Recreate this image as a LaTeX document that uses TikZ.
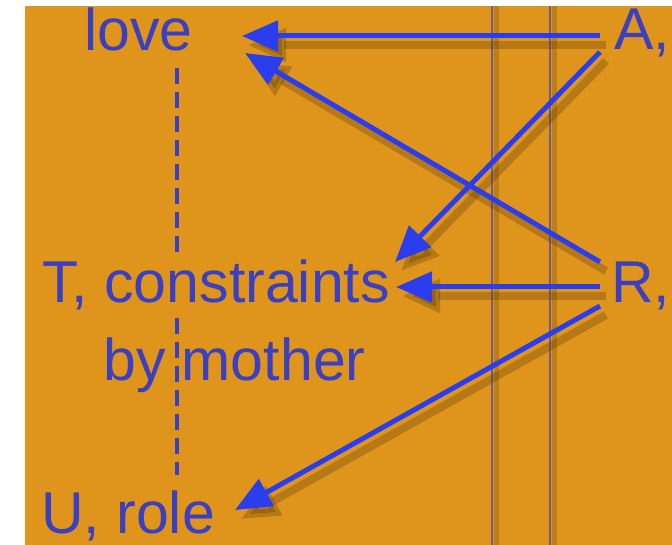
\documentclass[tikz,border=0pt]{standalone}
\usepackage{fontspec}
\setmainfont{Liberation Sans}
\usetikzlibrary{arrows.meta}
\definecolor{bgorange}{HTML}{DF951C}
\definecolor{arrowblue}{HTML}{2B3EEE}
\definecolor{textblue}{HTML}{3A40C0}
\definecolor{thinline}{HTML}{6F5C8C}
\definecolor{shadowcol}{HTML}{5A3A05}
\begin{document}
\begin{tikzpicture}[x=1pt,y=-1pt,
  lbl/.style={anchor=base west, inner sep=0pt, text=textblue, font=\fontsize{59}{62}\selectfont},
  conn/.style={draw=arrowblue, line width=5pt, -{Triangle[length=36pt,width=30pt]}},
  connshadow/.style={draw=shadowcol, opacity=0.3, line width=8pt, -{Triangle[length=38pt,width=32pt]}},
  rule/.style={draw=thinline, line width=2.5pt},
  ruleshadow/.style={draw=shadowcol, opacity=0.25, line width=5pt},
  dashv/.style={draw=textblue, line width=4.5pt, dash pattern=on 16pt off 8pt}]
\useasboundingbox (0,0) rectangle (672,545);
\fill[white] (0,0) rectangle (672,545);
\begin{scope}
\clip (25,6) rectangle (672,545);
\fill[bgorange] (25,6) rectangle (672,545);
% thin vertical rules
\coordinate (v1t) at (492,6); \coordinate (v1b) at (492,545);
\coordinate (v2t) at (550,6); \coordinate (v2b) at (550,545);
\draw[ruleshadow] ([xshift=4pt]v1t) -- ([xshift=4pt]v1b);
\draw[ruleshadow] ([xshift=4pt]v2t) -- ([xshift=4pt]v2b);
\draw[rule] (v1t) -- (v1b);
\draw[rule] (v2t) -- (v2b);
% labels
\node[lbl] (love) at (84,51) {love};
\node[lbl] (A) at (614,50) {A,};
\node[lbl] (T) at (42,303) {T, constraints};
\node[lbl] (by) at (103,380) {by mother};
\node[lbl] (U) at (41,533) {U, role};
\node[lbl] (R) at (611,303) {R,};
% connector ends
\coordinate (A1) at (600,36); \coordinate (A2) at (600,52);
\coordinate (R1) at (600,262); \coordinate (R2) at (600,287); \coordinate (R3) at (600,306);
\coordinate (loveA) at (242,36); \coordinate (loveR) at (245,53);
\coordinate (TA) at (395,262); \coordinate (TR) at (396,287);
\coordinate (Uin) at (235,510);
\coordinate (d1) at (177,68); \coordinate (d2) at (177,257);
\coordinate (d3) at (177,318); \coordinate (d4) at (177,475);
% shadows of connectors
\foreach \s/\e in {A1/loveA, A2/TA, R1/loveR, R2/TR, R3/Uin}
  \draw[connshadow] ([shift={(6,9)}]\s) -- ([shift={(6,9)}]\e);
% connectors
\draw[conn] (A1) -- (loveA);
\draw[conn] (A2) -- (TA);
\draw[conn] (R1) -- (loveR);
\draw[conn] (R2) -- (TR);
\draw[conn] (R3) -- (Uin);
% dashed line
\draw[dashv] (d1) -- (d2);
\draw[dashv] (d3) -- (d4);
\end{scope}
\end{tikzpicture}
\end{document}
